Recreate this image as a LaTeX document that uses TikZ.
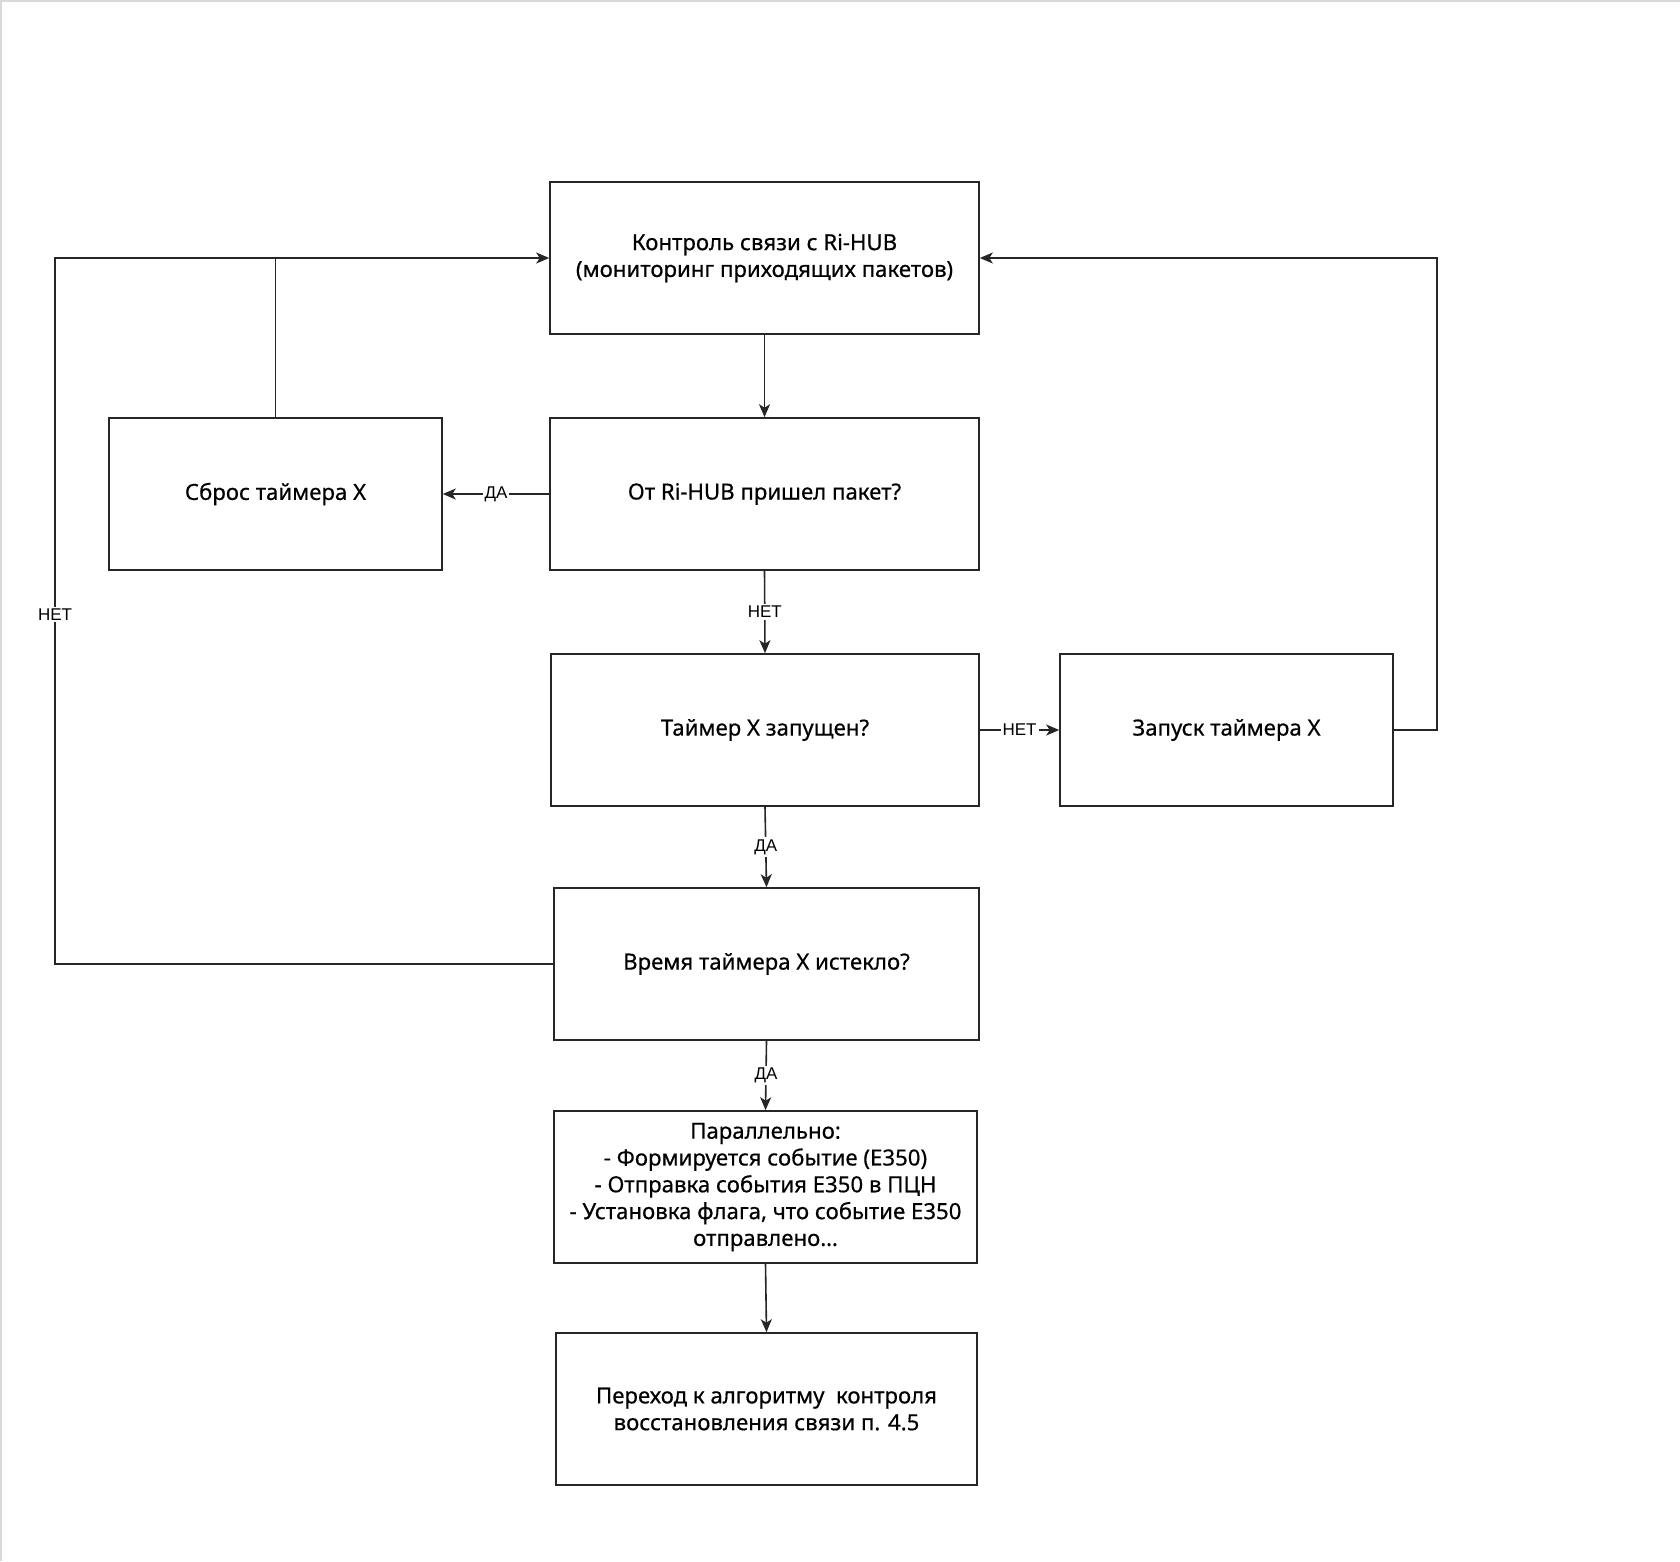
\documentclass[tikz,border=0pt]{standalone}
\usepackage{fontspec}
\setmainfont{Noto Sans}
\newfontfamily\boxfont{Noto Sans}[FakeBold=0.5]
\newfontfamily\lblfont{Liberation Sans}
\usetikzlibrary{arrows.meta}
\begin{document}
\begin{tikzpicture}[x=1pt,y=-1pt,
  box/.style={draw=black!85, line width=1.6pt, rectangle, inner sep=0pt, align=center,
    minimum height=152pt, font=\boxfont\fontsize{22.2}{26.8}\selectfont},
  link/.style={draw=black!85, line width=1.6pt},
  arr/.style={link, -{Stealth[length=13pt,width=11pt,inset=3.5pt]}},
  lbl/.style={fill=white, inner sep=2pt, font=\lblfont\fontsize{17}{18}\selectfont}]
\useasboundingbox (0,0) rectangle (1680,1561);
\fill[white] (0,0) rectangle (1680,1561);
\draw[black!15, line width=2pt] (0,1) -- (1680,1);
\draw[black!15, line width=2pt] (1,0) -- (1,1561);

\node[box, minimum width=429pt] (b1) at (764.5,258) {Контроль связи с Ri-HUB\\(мониторинг приходящих пакетов)};
\node[box, minimum width=429pt] (b2) at (764.5,494) {От Ri-HUB пришел пакет?};
\node[box, minimum width=333pt] (reset) at (275.5,494) {Сброс таймера X};
\node[box, minimum width=428pt] (timer) at (765,730) {Таймер X запущен?};
\node[box, minimum width=333pt] (start) at (1226.5,730) {Запуск таймера X};
\node[box, minimum width=425pt] (exp) at (766.5,964) {Время таймера X истекло?};
\node[box, minimum width=423pt] (par) at (765.5,1187) {Параллельно:\\- Формируется событие (E350)\\- Отправка события E350 в ПЦН\\- Установка флага, что событие E350\\отправлено…};
\node[box, minimum width=421pt] (go) at (766.5,1409) {Переход к алгоритму\ \ контроля\\восстановления связи п. 4.5};

\coordinate (lb) at (55,964);
\coordinate (lt) at (55,258);
\coordinate (rb) at (1437,730);
\coordinate (rt) at (1437,258);

\draw[arr] (b1.south) -- (b2.north);
\draw[arr] (b2.west) -- node[lbl]{ДА} (reset.east);
\draw[arr] (b2.south) -- node[lbl]{НЕТ} (timer.north);
\draw[arr] (timer.east) -- node[lbl]{НЕТ} (start.west);
\draw[arr] (timer.south) -- node[lbl]{ДА} (exp.north);
\draw[arr] (exp.south) -- node[lbl]{ДА} (par.north);
\draw[arr] (par.south) -- (go.north);
\draw[arr] (exp.west) -- (lb) -- node[lbl, pos=0.495]{НЕТ} (lt) -- (b1.west);
\draw[link] (reset.north) -- (reset.north |- b1.west);
\draw[arr] (start.east) -- (rb) -- (rt) -- (b1.east);
\end{tikzpicture}
\end{document}
